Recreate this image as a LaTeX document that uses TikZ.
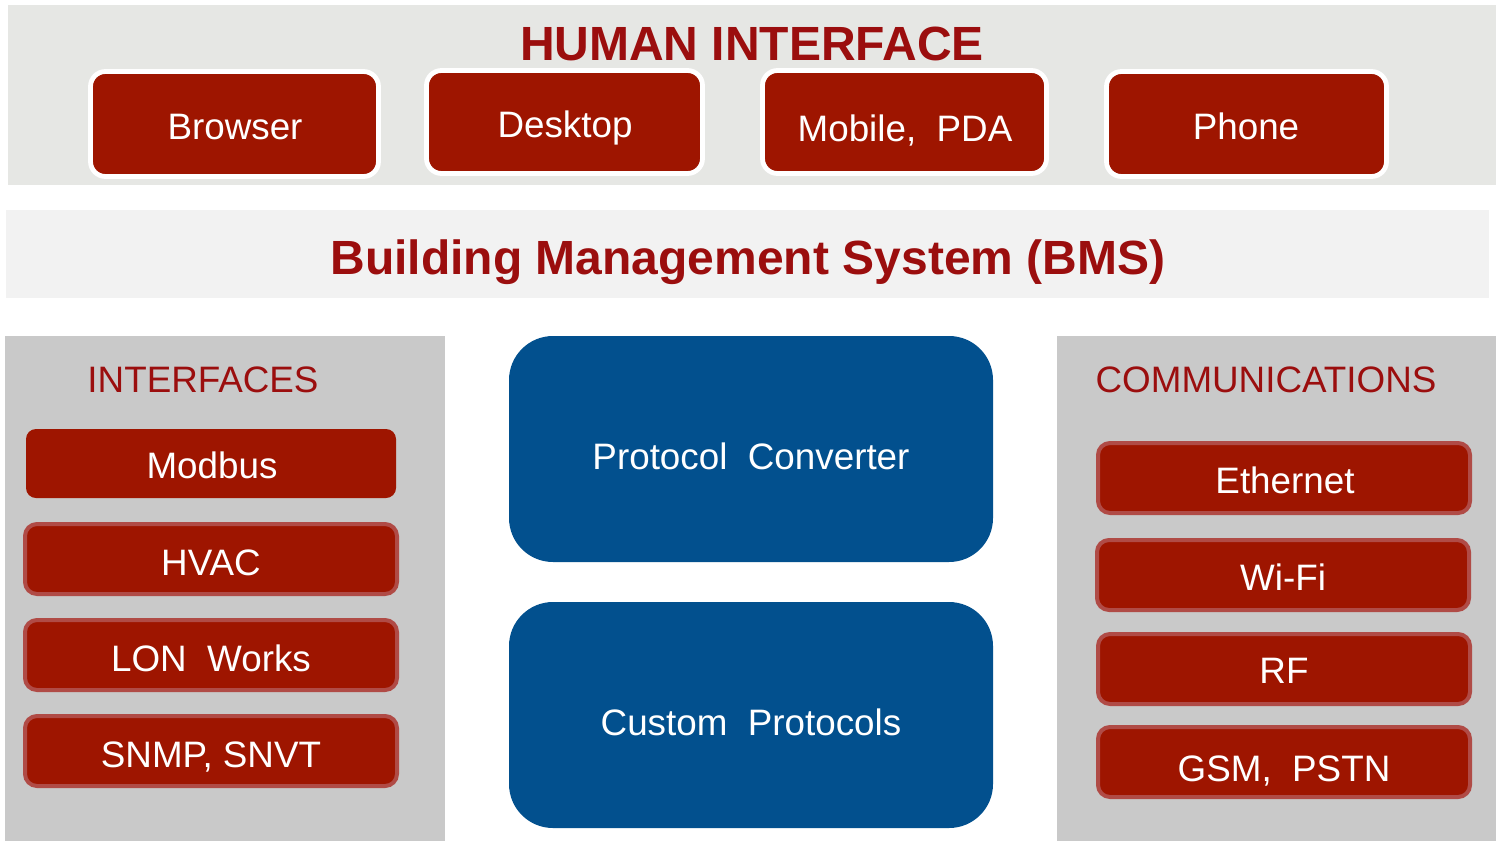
\documentclass[tikz,border=0pt]{standalone}
\usepackage{fontspec}
\setmainfont{Liberation Sans}
\definecolor{bred}{RGB}{158,21,0}
\definecolor{tred}{RGB}{155,14,14}
\definecolor{bordred}{RGB}{176,75,70}
\definecolor{bblue}{RGB}{2,80,142}
\definecolor{topband}{RGB}{230,231,228}
\definecolor{bmsband}{RGB}{242,242,242}
\definecolor{panel}{RGB}{201,201,201}
\tikzset{
  hibox/.style={fill=bred, draw=white, line width=2.4pt, rounded corners=7.5pt, inner sep=0pt},
  plainbox/.style={fill=bred, rounded corners=5pt, inner sep=0pt, minimum width=185pt, minimum height=34.5pt},
  listbox/.style={fill=bred, draw=bordred, line width=2pt, rounded corners=6pt, inner sep=0pt, minimum width=186pt, minimum height=35pt},
  bluebox/.style={fill=bblue, rounded corners=22pt, inner sep=0pt, minimum width=242pt, minimum height=113pt},
  boxtext/.style={text=white, font=\fontsize{18.4}{22}\selectfont, inner sep=0pt, text height=13.2pt, text depth=0pt},
  bandtitle/.style={text=tred, font=\fontsize{24}{28}\bfseries\selectfont, inner sep=0pt, text height=17.2pt, text depth=0pt},
  paneltitle/.style={text=tred, font=\fontsize{18.4}{22}\selectfont, inner sep=0pt, text height=13.2pt, text depth=0pt}
}
\begin{document}
\begin{tikzpicture}[x=0.5pt,y=-0.5pt]
\useasboundingbox (0,0) rectangle (1498,841);
\fill[white] (0,0) rectangle (1498,841);
% bands and panels
\fill[topband] (8,5) rectangle (1496,185);
\fill[bmsband] (6,210) rectangle (1489,298);
\fill[panel] (5,336) rectangle (445,841);
\fill[panel] (1057,336) rectangle (1496,841);
% titles
\node[bandtitle] (hi) at (752,43) {HUMAN INTERFACE};
\node[bandtitle] (bms) at (748,257) {Building Management System (BMS)};
\node[paneltitle] (ifc) at (203,379) {INTERFACES};
\node[paneltitle] (comm) at (1266,379) {COMMUNICATIONS};
% human interface boxes
\node[hibox, minimum width=144pt, minimum height=52.5pt] (browser) at (234.5,124) {};
\node[hibox, minimum width=138pt, minimum height=51.5pt] (desktop) at (564.5,122) {};
\node[hibox, minimum width=142pt, minimum height=51.5pt] (mobile) at (904.5,122) {};
\node[hibox, minimum width=140pt, minimum height=52.5pt] (phone) at (1246.5,124) {};
\node[boxtext] (browsert) at (235,126) {Browser};
\node[boxtext] (desktopt) at (565,124.5) {Desktop};
\node[boxtext] (mobilet) at (905,128.5) {Mobile,\ \ PDA};
\node[boxtext] (phonet) at (1246,126) {Phone};
% interfaces
\node[plainbox] (modbus) at (211,463.5) {};
\node[listbox] (hvac) at (211,559) {};
\node[listbox] (lon) at (211,655) {};
\node[listbox] (snmp) at (211,751) {};
\node[boxtext] (modbust) at (212,465.5) {Modbus};
\node[boxtext] (hvact) at (211,562) {HVAC};
\node[boxtext] (lont) at (211,658) {LON\ \ Works};
\node[boxtext] (snmpt) at (211,754) {SNMP, SNVT};
% center
\node[bluebox] (pc) at (751,449) {};
\node[bluebox] (cp) at (751,715) {};
\node[boxtext] (pct) at (751,456) {Protocol\ \ Converter};
\node[boxtext] (cpt) at (751,722) {Custom\ \ Protocols};
% communications
\node[listbox] (eth) at (1284,478) {};
\node[listbox] (wifi) at (1283,575) {};
\node[listbox] (rf) at (1284,669) {};
\node[listbox] (gsm) at (1284,762) {};
\node[boxtext] (etht) at (1285,480) {Ethernet};
\node[boxtext] (wifit) at (1283,577) {Wi-Fi};
\node[boxtext] (rft) at (1284,670.5) {RF};
\node[boxtext] (gsmt) at (1284,768) {GSM,\ \ PSTN};
\end{tikzpicture}
\end{document}
